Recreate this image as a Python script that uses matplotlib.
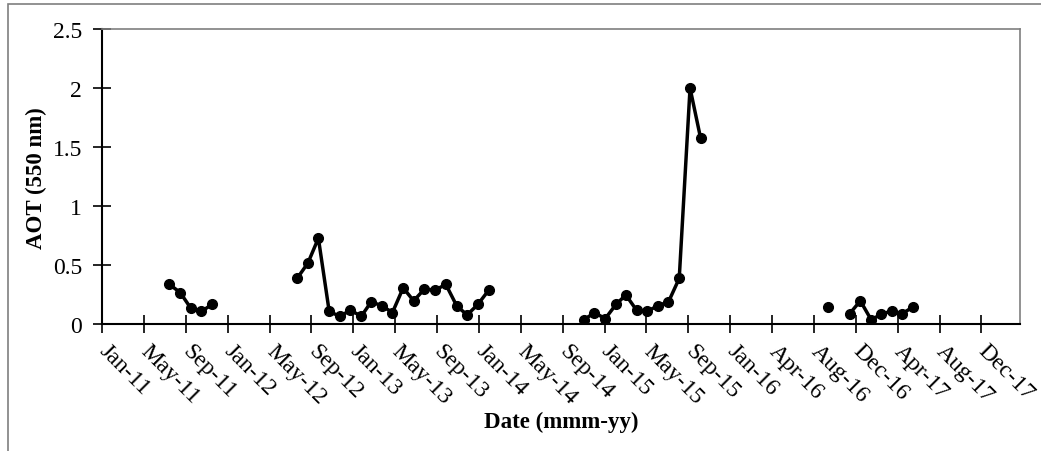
import numpy as np
import pandas as pd
import matplotlib
matplotlib.use("Agg")
import matplotlib.pyplot as plt
from matplotlib.patches import Rectangle

plt.rcParams['font.family'] = ['Liberation Serif', 'DejaVu Serif']

# monthly AOT observations (month, value)
months = ['2011-08', '2011-09', '2011-10', '2011-11', '2011-12',
          '2012-08', '2012-09', '2012-10', '2012-11', '2012-12',
          '2013-01', '2013-02', '2013-03', '2013-04', '2013-05', '2013-06',
          '2013-07', '2013-08', '2013-09', '2013-10', '2013-11', '2013-12',
          '2014-01', '2014-02',
          '2014-11', '2014-12', '2015-01', '2015-02', '2015-03', '2015-04',
          '2015-05', '2015-06', '2015-07', '2015-08', '2015-09', '2015-10',
          '2016-10', '2016-12', '2017-01', '2017-02', '2017-03', '2017-04',
          '2017-05', '2017-06']
aot = [0.34, 0.27, 0.14, 0.11, 0.17,
       0.39, 0.52, 0.73, 0.11, 0.07,
       0.12, 0.07, 0.19, 0.16, 0.10, 0.31,
       0.20, 0.30, 0.29, 0.34, 0.16, 0.08,
       0.17, 0.29,
       0.04, 0.10, 0.05, 0.17, 0.25, 0.12,
       0.11, 0.16, 0.19, 0.39, 2.00, 1.58,
       0.145, 0.09, 0.20, 0.04, 0.085, 0.115,
       0.09, 0.15]

tick_labels = ['Jan-11', 'May-11', 'Sep-11', 'Jan-12', 'May-12', 'Sep-12',
               'Jan-13', 'May-13', 'Sep-13', 'Jan-14', 'May-14', 'Sep-14',
               'Jan-15', 'May-15', 'Sep-15', 'Jan-16', 'Apr-16', 'Aug-16',
               'Dec-16', 'Apr-17', 'Aug-17', 'Dec-17']

# put on a full monthly index so missing months break the line
s = pd.Series(aot, index=pd.to_datetime(months))
s = s.reindex(pd.date_range(s.index[0], s.index[-1], freq='MS'))

fig = plt.figure(figsize=(10.41, 4.52), dpi=100)
ax = fig.add_axes([0.098, 0.2799, 0.882, 0.6537])

# chart area border
fig.patches.append(Rectangle((8 / 1041, -0.05), 1.1, 1 - 5 / 452 + 0.05,
                             transform=fig.transFigure, fill=False,
                             edgecolor='#7f7f7f', linewidth=1.2))

ax.plot(s.index, s.values, color='black', linewidth=2.5,
        marker='o', markersize=7)

# excel style date axis: one tick every 120 days
start = pd.Timestamp('2011-01-20')
ticks = [start + pd.Timedelta(days=120 * k) for k in range(len(tick_labels))]
ax.set_xticks(ticks)
ax.set_xticklabels(tick_labels, rotation=-45, ha='left', va='center',
                   rotation_mode='anchor', fontsize=17)
ax.set_xlim(start, start + pd.Timedelta(days=2631))

ax.set_ylim(0, 2.5)
ax.set_yticks(np.arange(0, 2.51, 0.5))
ax.set_yticklabels(['0', '0.5', '1', '1.5', '2', '2.5'], fontsize=17)

ax.tick_params(axis='both', direction='inout', length=13, width=1.2,
               color='black')
ax.tick_params(axis='x', pad=10)
ax.tick_params(axis='y', pad=8)

for side in ['left', 'bottom']:
    ax.spines[side].set_color('black')
    ax.spines[side].set_linewidth(1.5)
for side in ['top', 'right']:
    ax.spines[side].set_color('#7f7f7f')
    ax.spines[side].set_linewidth(1.2)

ax.set_xlabel('Date (mmm-yy)', fontsize=16.5, fontweight='bold', labelpad=2)
ax.set_ylabel('AOT (550 nm)', fontsize=16.5, fontweight='bold', labelpad=4)

fig.savefig('out.png', dpi=100)
